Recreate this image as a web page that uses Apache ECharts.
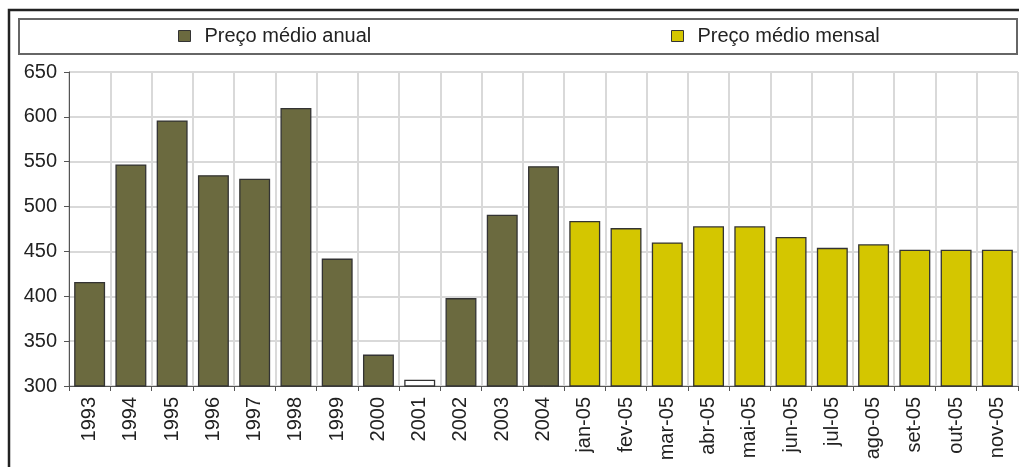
<!DOCTYPE html>
<html>
<head>
<meta charset="utf-8">
<script src="https://cdn.jsdelivr.net/npm/echarts@6/dist/echarts.min.js"></script>
<style>
html,body{margin:0;padding:0;background:#fff;}
#chart{width:1019px;height:467px;}
</style>
</head>
<body>
<div id="chart"></div>
<script>
var categories = ['1993','1994','1995','1996','1997','1998','1999','2000','2001','2002','2003','2004',
  'jan-05','fev-05','mar-05','abr-05','mai-05','jun-05','jul-05','ago-05','set-05','out-05','nov-05'];
var annualValues = [416, 547, 596, 535, 531, 610, 442, 335, 307, 398, 491, 545,
  null, null, null, null, null, null, null, null, null, null, null];
var monthlyValues = [null, null, null, null, null, null, null, null, null, null, null, null,
  484, 476, 460, 478, 478, 466, 454, 458, 452, 452, 452];
var yTicks = { min: 300, max: 650, interval: 50 };
var seriesNames = ['Preço médio anual', 'Preço médio mensal'];
var highlightCategory = '2001';

var FONT = 'Liberation Sans, Arial, sans-serif';
var annualData = annualValues.map(function (v, i) {
  if (v == null) return '-';
  if (categories[i] === highlightCategory) {
    return { value: v, itemStyle: { color: '#ffffff' } };
  }
  return v;
});
var monthlyData = monthlyValues.map(function (v) { return v == null ? '-' : v; });

var chart = echarts.init(document.getElementById('chart'), null, { renderer: 'canvas' });
chart.setOption({
  animation: false,
  backgroundColor: '#ffffff',
  graphic: [
    { type: 'rect', shape: { x: 9, y: 10, width: 1100, height: 600 },
      style: { fill: 'none', stroke: '#222', lineWidth: 2.5 }, z: 100 },
    { type: 'rect', shape: { x: 19, y: 19, width: 998, height: 35 },
      style: { fill: 'none', stroke: '#666', lineWidth: 2 }, z: 100 }
  ],
  legend: [
    { data: [seriesNames[0]], left: 173, top: 21, itemWidth: 12, itemHeight: 11, icon: 'rect',
      itemStyle: { borderColor: '#333', borderWidth: 1 },
      textStyle: { fontFamily: FONT, fontSize: 20, color: '#222', padding: [0, 0, 0, 9] } },
    { data: [seriesNames[1]], left: 666, top: 21, itemWidth: 12, itemHeight: 11, icon: 'rect',
      itemStyle: { borderColor: '#333', borderWidth: 1 },
      textStyle: { fontFamily: FONT, fontSize: 20, color: '#222', padding: [0, 0, 0, 9] } }
  ],
  grid: { left: 69, right: 1, top: 72, bottom: 81, containLabel: false },
  xAxis: {
    type: 'category',
    data: categories,
    boundaryGap: true,
    axisLine: { lineStyle: { color: '#555', width: 1 } },
    axisTick: { show: true, length: 5, lineStyle: { color: '#555' } },
    axisLabel: { rotate: 90, fontFamily: FONT, fontSize: 20, color: '#222', margin: 11 },
    splitLine: { show: true, lineStyle: { color: '#d9d9d9', width: 2 } }
  },
  yAxis: {
    type: 'value',
    min: yTicks.min, max: yTicks.max, interval: yTicks.interval,
    axisLine: { show: true, lineStyle: { color: '#555', width: 1 } },
    axisTick: { show: true, length: 5, lineStyle: { color: '#555' } },
    axisLabel: { fontFamily: FONT, fontSize: 20, color: '#222', margin: 12 },
    splitLine: { show: true, lineStyle: { color: '#d9d9d9', width: 2 } }
  },
  series: [
    { name: seriesNames[0], type: 'bar', data: annualData, barGap: '-100%', barCategoryGap: '25%',
      itemStyle: { color: '#6b6a3f', borderColor: '#333', borderWidth: 1.3 } },
    { name: seriesNames[1], type: 'bar', data: monthlyData, barGap: '-100%', barCategoryGap: '25%',
      itemStyle: { color: '#d4c600', borderColor: '#333', borderWidth: 1.3 } }
  ]
});
</script>
</body>
</html>
